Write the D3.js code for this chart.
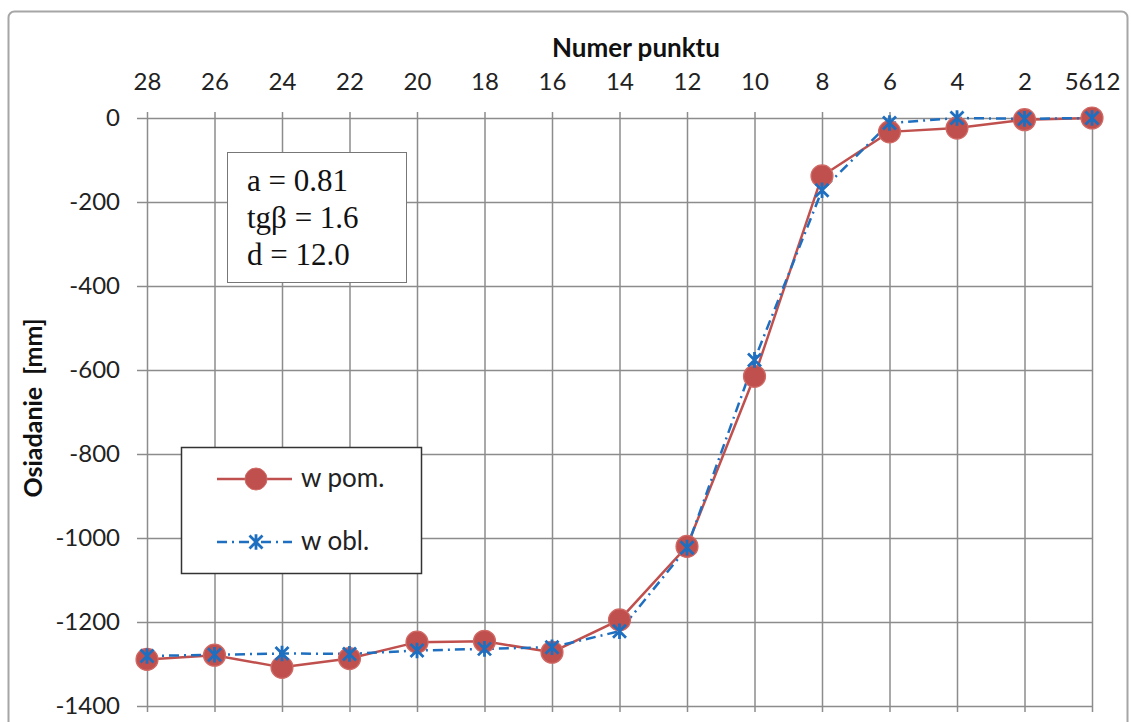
<!DOCTYPE html>
<html><head><meta charset="utf-8">
<script src="https://cdn.jsdelivr.net/npm/d3@7"></script>
<style>body{margin:0;background:#fff}svg{display:block}</style>
</head><body>
<svg id="c" width="1131" height="722"></svg>
<script>
const categories = ["28","26","24","22","20","18","16","14","12","10","8","6","4","2","5612"];
const wPom = [-1289,-1279,-1308,-1287,-1248,-1246,-1272,-1195,-1020,-615,-138,-33,-24,-4,0];
const wObl = [-1281,-1278,-1275,-1276,-1268,-1264,-1260,-1222,-1023,-576,-172,-12,0,-2,0];
const yTicks = [0,-200,-400,-600,-800,-1000,-1200,-1400];
const params = ["a = 0.81","tgβ = 1.6","d = 12.0"];
const xTitle = "Numer punktu", yTitle = "Osiadanie  [mm]";
const seriesNames = ["w pom.","w obl."];

const svg = d3.select("#c");
const red = "#C0504D", blue = "#1F6FC0", grid = "#8c8c8c";
const sans = "Lato, 'Open Sans', sans-serif";
const L = 147, R = 1092, T = 118, B = 706;
const x = d3.scalePoint().domain(categories).range([L, R]);
const y = d3.scaleLinear().domain([-1400, 0]).range([B, T]);

svg.append("rect").attr("x",8.5).attr("y",11.5).attr("width",1119).attr("height",740)
  .attr("rx",6).attr("fill","#fff").attr("stroke","#a6a6a6").attr("stroke-width",2);

// horizontal grid + y axis
const gy = svg.append("g").attr("transform",`translate(${L},0)`)
  .call(d3.axisLeft(y).tickValues(yTicks).tickSize(10).tickPadding(17).tickFormat(d=>String(d)));
gy.select(".domain").remove();
gy.selectAll(".tick line").attr("stroke",grid).attr("stroke-width",1.5);
gy.selectAll(".tick").append("line").attr("x1",0).attr("x2",R-L).attr("stroke",grid).attr("stroke-width",1.5);
gy.selectAll("text").attr("font-family",sans).attr("font-size",24).attr("fill","#222");

// vertical grid + top x axis
const gx = svg.append("g").attr("transform",`translate(0,${T})`)
  .call(d3.axisTop(x).tickSize(6).tickPadding(22));
gx.select(".domain").remove();
gx.selectAll(".tick line").attr("stroke",grid).attr("stroke-width",1.5);
gx.selectAll(".tick").append("line").attr("y1",0).attr("y2",B-T+6).attr("stroke",grid).attr("stroke-width",1.5);
gx.selectAll("text").attr("font-family",sans).attr("font-size",24).attr("fill","#222");

svg.append("text").attr("x",636).attr("y",57).attr("text-anchor","middle")
  .attr("font-family",sans).attr("font-weight","bold").attr("font-size",26).attr("fill","#111").text(xTitle);
svg.append("text").attr("transform",`translate(42,408) rotate(-90)`).attr("text-anchor","middle")
  .style("white-space","pre").attr("font-family",sans).attr("font-weight","bold").attr("font-size",25).attr("fill","#111").text(yTitle);

const line = d3.line().x((d,i)=>x(categories[i])).y(d=>y(d));
svg.append("path").datum(wPom).attr("d",line).attr("fill","none").attr("stroke",red).attr("stroke-width",2.5);
svg.append("path").datum(wObl).attr("d",line).attr("fill","none").attr("stroke",blue).attr("stroke-width",2.5).attr("stroke-dasharray","10,5,2,5");

function star(g, cx, cy, s){
  g.append("path").attr("d",`M${cx-s},${cy-s}L${cx+s},${cy+s}M${cx-s},${cy+s}L${cx+s},${cy-s}M${cx},${cy-s*1.2}L${cx},${cy+s*1.2}`)
   .attr("stroke",blue).attr("stroke-width",2.8).attr("fill","none");
}
svg.append("g").selectAll("circle").data(wPom).join("circle")
  .attr("cx",(d,i)=>x(categories[i])).attr("cy",d=>y(d)).attr("r",11)
  .attr("fill",red).attr("stroke","#d06a66").attr("stroke-width",1.2);
const sg = svg.append("g");
wObl.forEach((d,i)=>star(sg, x(categories[i]), y(d), 6.5));

// parameter box
svg.append("rect").attr("x",227.5).attr("y",152.5).attr("width",179).attr("height",130)
  .attr("fill","#fff").attr("stroke","#777").attr("stroke-width",1);
svg.append("g").selectAll("text").data(params).join("text")
  .attr("x",247).attr("y",(d,i)=>191+i*37)
  .attr("font-family","'Liberation Serif', 'Times New Roman', serif").attr("font-size",31).attr("fill","#111").text(d=>d);

// legend
svg.append("rect").attr("x",181.5).attr("y",447.5).attr("width",240).attr("height",126)
  .attr("fill","#fff").attr("stroke","#333").attr("stroke-width",1.5);
const lg = svg.append("g");
lg.append("line").attr("x1",217).attr("x2",292).attr("y1",479).attr("y2",479).attr("stroke",red).attr("stroke-width",2.5);
lg.append("circle").attr("cx",256).attr("cy",479).attr("r",11).attr("fill",red).attr("stroke","#d06a66");
lg.append("line").attr("x1",217).attr("x2",292).attr("y1",542).attr("y2",542).attr("stroke",blue).attr("stroke-width",2.5).attr("stroke-dasharray","10,5,2,5");
star(lg, 256, 542, 6.5);
lg.selectAll("text").data(seriesNames).join("text")
  .attr("x",301).attr("y",(d,i)=>487+i*63)
  .attr("font-family",sans).attr("font-size",26).attr("fill","#222").text(d=>d);
</script>
</body></html>
